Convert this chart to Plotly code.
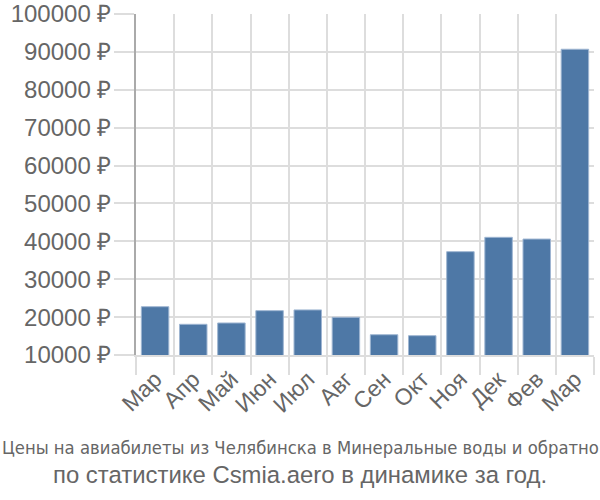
import plotly.graph_objects as go

months = ["Мар", "Апр", "Май", "Июн", "Июл", "Авг", "Сен", "Окт", "Ноя", "Дек", "Фев", "\u200bМар"]
prices = [22750, 18100, 18450, 21700, 21900, 19950, 15350, 15100, 37270, 41060, 40600, 90700]
y_ticks = [10000, 20000, 30000, 40000, 50000, 60000, 70000, 80000, 90000, 100000]
title_line1 = "Цены на авиабилеты из Челябинска в Минеральные воды и обратно"
title_line2 = "по статистике Csmia.aero в динамике за год."

grid = "#dddddd"
txt = "#666666"

fig = go.Figure(go.Bar(
    x=months, y=prices,
    marker=dict(color="#4e78a6", line=dict(color="#9fb6d2", width=1)),
    width=0.72,
))

fig.update_layout(
    width=600, height=500,
    margin=dict(l=136, r=6, t=14, b=145, autoexpand=False),
    plot_bgcolor="white", paper_bgcolor="white",
    showlegend=False,
    font=dict(family="Liberation Sans, Arial, sans-serif", size=24, color=txt),
    xaxis=dict(
        type="category", tickson="boundaries", ticks="outside", ticklen=18,
        tickcolor=grid, tickwidth=1.5, showgrid=True, gridcolor=grid, gridwidth=1.5,
        tickangle=-45, showline=True, linecolor=grid, linewidth=1.5,
        tickfont=dict(size=23, color=txt), automargin=False,
    ),
    yaxis=dict(
        range=[10000, 100000], tickvals=y_ticks,
        ticktext=[f"{v} ₽" for v in y_ticks],
        ticks="outside", ticklen=20, tickcolor=grid, tickwidth=1.5,
        showgrid=True, gridcolor=grid, gridwidth=1.5,
        showline=True, linecolor="#aaaaaa", linewidth=1.5, zeroline=False,
        tickfont=dict(size=24, color=txt), automargin=False,
        ticklabelstandoff=-2,
    ),
)

plot_h = 500 - 14 - 145
plot_w = 600 - 136 - 6
for text, py, fam, size in [
    (title_line1, 447, "DejaVu Sans Condensed", 18.3),
    (title_line2, 474, "Liberation Sans, Arial, sans-serif", 23.9),
]:
    fig.add_annotation(
        text=text, xref="paper", yref="paper",
        x=(300 - 136) / plot_w, y=(500 - 145 - py) / plot_h,
        xanchor="center", yanchor="middle", showarrow=False,
        font=dict(family=fam, size=size, color=txt),
    )

fig.write_html("out.html")
